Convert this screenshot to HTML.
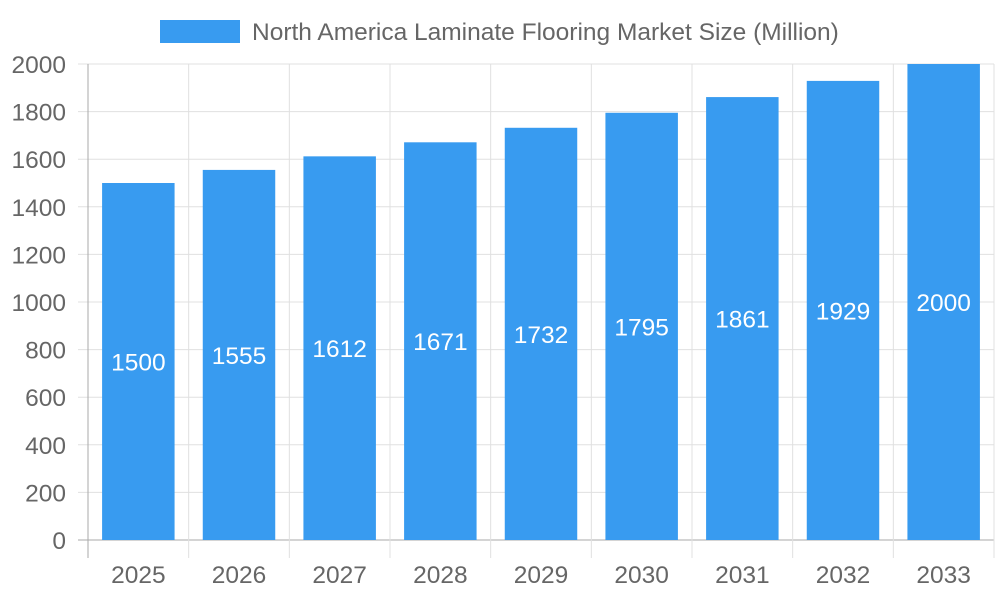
<!DOCTYPE html>
<html><head><meta charset="utf-8"><style>
html,body{margin:0;padding:0;background:#fff;}
svg{display:block;font-family:"Liberation Sans",sans-serif;}
</style></head><body>
<svg id="chart" width="1000" height="600">
<g id="legend">
<rect x="160" y="20" width="80" height="23" fill="#389bf0"></rect>
<text x="252" y="40" font-size="24.5" fill="#666">North America Laminate Flooring Market Size (Million)</text>
</g>
<g id="grid"></g><g id="bars"></g><g id="axes"></g>
</svg>
<script>
const categories = ["2025","2026","2027","2028","2029","2030","2031","2032","2033"];
const values = [1500,1555,1612,1671,1732,1795,1861,1929,2000];
const yTicks = [0,200,400,600,800,1000,1200,1400,1600,1800,2000];
const NS="http://www.w3.org/2000/svg";
const L=88,R=994,T=64,B=540,yMax=2000;
const bw=(R-L)/categories.length;
const x=i=>L+i*bw;
const y=v=>B-(v/yMax)*(B-T);
function mk(tag,attrs,parent,text){const e=document.createElementNS(NS,tag);for(const k in attrs)e.setAttribute(k,attrs[k]);if(text!==undefined)e.textContent=text;parent.appendChild(e);return e;}
const grid=document.getElementById('grid'),bars=document.getElementById('bars'),axes=document.getElementById('axes');
yTicks.forEach(t=>{
  const g=mk('line',{x1:L-10,x2:R,y1:y(t),y2:y(t),stroke:t===0?'#aaa':'#e0e0e0','stroke-width':1},grid);
  
  
  const lb=mk('text',{x:66,y:y(t)+9,'text-anchor':'end','font-size':24.5,fill:'#666'},axes,String(t));
  
  
});
for(let i=0;i<=categories.length;i++){
  const g=mk('line',{x1:x(i),x2:x(i),y1:T,y2:B+18,stroke:i===0?'#aaa':'#e0e0e0','stroke-width':1},grid);
  
  
}
categories.forEach((c,i)=>{
  const w=bw*0.72,cx=x(i)+bw/2,v=values[i];
  const r=mk('rect',{x:cx-w/2,y:y(v),width:w,height:B-y(v),fill:'#389bf0'},bars);
  
  
  const vl=mk('text',{x:cx,y:(y(v)+B)/2+9,'text-anchor':'middle','font-size':24.5,fill:'#fff'},bars,String(v));
  
  
  const xl=mk('text',{x:cx,y:583,'text-anchor':'middle','font-size':24.5,fill:'#666'},axes,c);
  
  
});
</script>
</body></html>
